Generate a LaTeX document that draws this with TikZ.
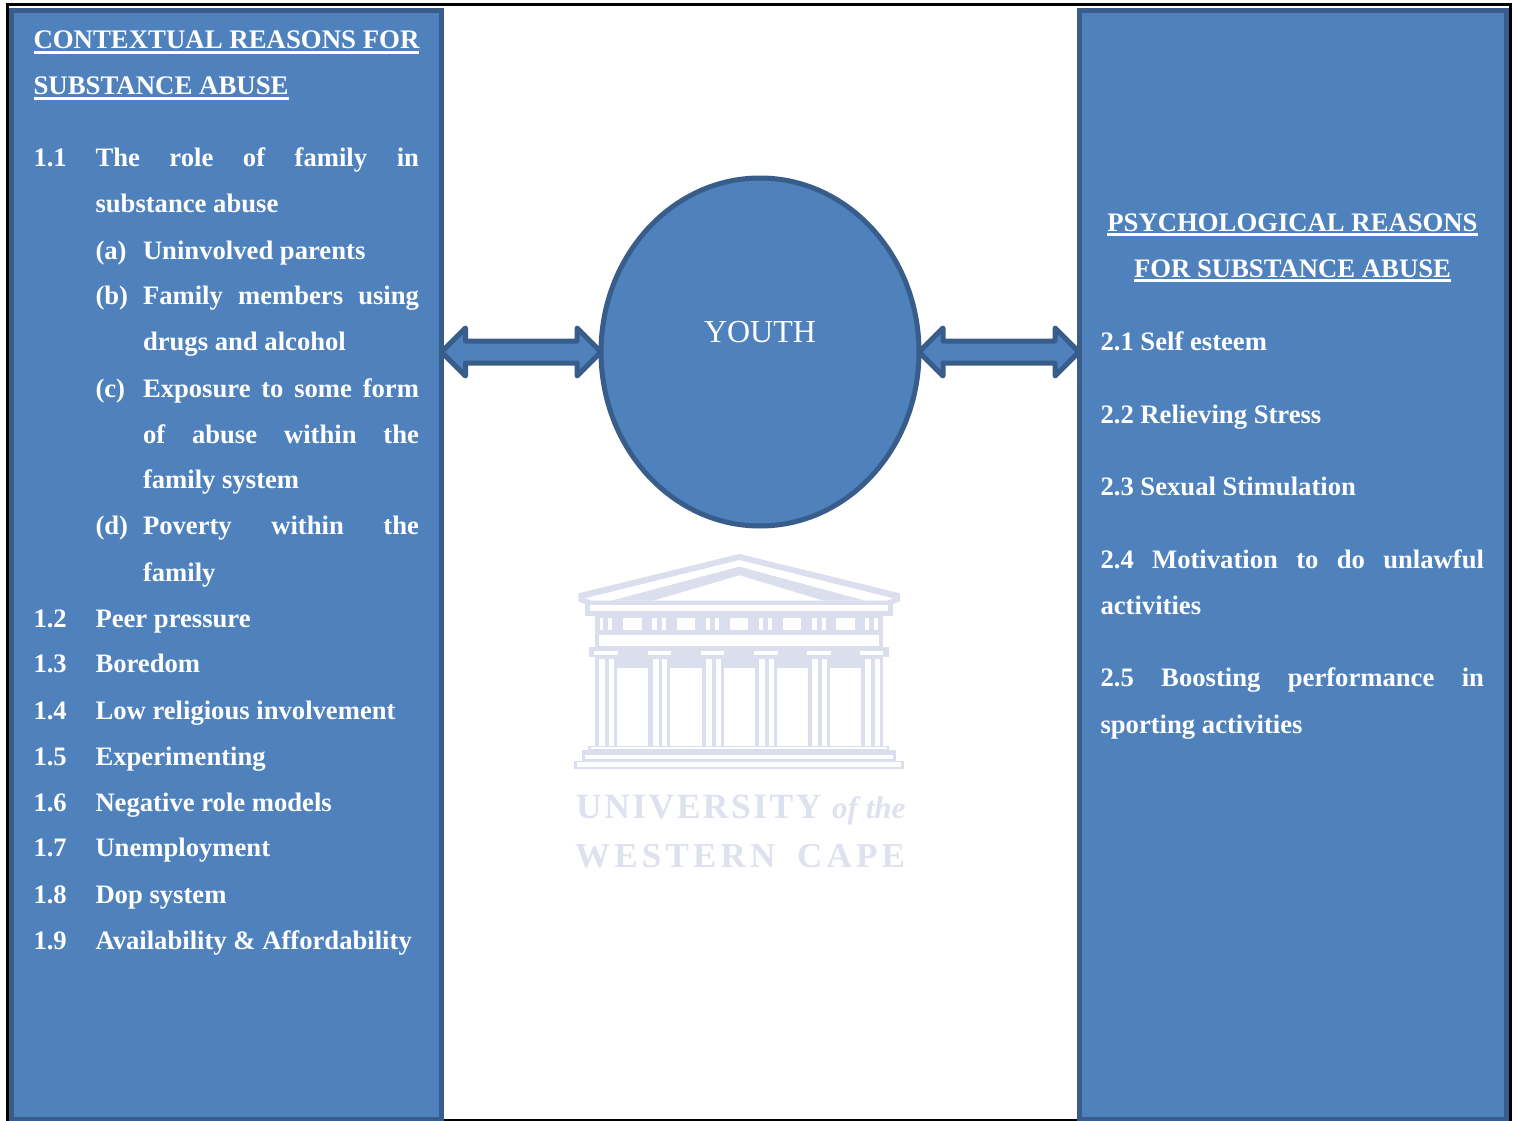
\documentclass[tikz,border=0pt]{standalone}
\usepackage{fontspec}
\setmainfont{Liberation Serif}
\newfontfamily\wmfontA[LetterSpace=7]{Liberation Serif}
\newfontfamily\wmfontB[LetterSpace=12]{Liberation Serif}
\usetikzlibrary{calc,positioning,shapes.geometric}
\definecolor{panelfill}{HTML}{4F81BD}
\definecolor{panelline}{HTML}{385D8A}
\definecolor{wm}{HTML}{DADEED}
\definecolor{wmtext}{HTML}{DEE1EE}
\newcommand{\ultext}[1]{\setbox0\hbox{#1}\rlap{\rule[-4.6pt]{\wd0}{2.4pt}}\box0}
\tikzset{
  panel/.style={draw=panelline,fill=panelfill,line width=5pt,inner sep=0pt,outer sep=0pt,rectangle},
  txt/.style={anchor=base west,inner sep=0pt,outer sep=0pt,text=white,font=\fontsize{26.65}{30}\selectfont\bfseries},
  ttl/.style={anchor=base west,inner sep=0pt,outer sep=0pt,text=white,font=\fontsize{26.82}{30}\selectfont\bfseries},
  ctr/.style={anchor=base,inner sep=0pt,outer sep=0pt,text=white,font=\fontsize{26.7}{30}\selectfont\bfseries},
  blockarrow/.style={draw=panelline,fill=panelfill,line width=5pt,line join=round},
  wmfill/.style={fill=wm,draw=none},
  wmwhite/.style={fill=white,draw=none},
}
\newcommand{\tl}[4]{\node[txt] (#1) at (#2,#3) {#4};}
\newcommand{\jl}[5]{\node[txt] (#1) at (#2,#3) {\makebox[#4pt][s]{#5}};}
\newcommand{\barrow}[2]{%
  \draw[blockarrow] (#1)
    -- ($(#1)+(24,-24)$) -- ($(#1)+(24,-11)$)
    -- ($(#2)+(-24,-11)$) -- ($(#2)+(-24,-24)$)
    -- (#2)
    -- ($(#2)+(-24,24)$) -- ($(#2)+(-24,11)$)
    -- ($(#1)+(24,11)$) -- ($(#1)+(24,24)$) -- cycle;}
\begin{document}
\begin{tikzpicture}[x=1pt,y=-1pt]
\useasboundingbox (0,0) rectangle (1517,1121);
\fill[white] (0,0) rectangle (1517,1121);
\draw[black,line width=2.6pt] (7.2,4.5) rectangle (1510.3,1120);

% watermark
\begin{scope}[shift={(540,530)},x=0.33333pt,y=-0.33333pt]
  \fill[wmfill] (115,190) -- (598,72) -- (1080,190) -- (1080,214) -- (1060,222) -- (135,222) -- (115,214) -- cycle;
  \fill[wmwhite] (135,205) -- (598,90) -- (1060,205) -- (1040,212) -- (155,212) -- cycle;
  \fill[wmfill] (215,212) -- (598,110) -- (975,212) -- cycle;
  \fill[wmwhite] (340,212) -- (598,136) -- (850,212) -- cycle;
  \fill[wmfill] (150,212) rectangle (1045,226);
  \fill[wmwhite] (150,228) rectangle (1045,244);
  \fill[wmfill] (135,222) rectangle (150,258);
  \fill[wmfill] (1045,222) rectangle (1060,258);
  \fill[wmfill] (150,244) rectangle (1045,258);
  \fill[wmfill] (165,258) rectangle (1030,352);
  \foreach \a/\b in {250/305,410/465,570/625,728/783,888/945,180/190,203/215,337/350,365/378,497/510,525/538,657/670,683/697,815/830,845/858,975/988,1003/1015}
    \fill[wmwhite] (\a,263) rectangle (\b,300);
  \fill[wmwhite] (178,315) rectangle (1018,348);
  \fill[wmfill] (148,350) rectangle (1047,380);
  \fill[wmfill] (165,380) rectangle (1030,415);
  \foreach \c in {163,323,483,643,802,960}{
    \fill[wmwhite] (\c,362) rectangle ++(70,13);
    \fill[wmfill] (\c+2,380) rectangle ++(66,268);
    \fill[wmwhite] (\c+15,386) rectangle ++(18,262);
    \fill[wmwhite] (\c+44,386) rectangle ++(15,262);
  }
  \fill[wmfill] (145,648) rectangle (1048,660);
  \fill[wmwhite] (152,652) rectangle (1040,657);
  \fill[wmfill] (125,660) rectangle (1068,692);
  \fill[wmwhite] (134,676) rectangle (1060,686);
  \fill[wmfill] (103,692) rectangle (1092,718);
  \fill[wmwhite] (112,697) rectangle (1084,710);
\end{scope}
\node[anchor=base west,inner sep=0pt,text=wmtext,font=\wmfontA\fontsize{35.5}{40}\selectfont\bfseries] (wmuni) at (576,818) {UNIVERSITY};
\node[anchor=base west,inner sep=0pt,text=wmtext,font=\fontsize{31}{36}\selectfont\bfseries\itshape] (wmof) at (832,818) {of the};
\node[anchor=base west,inner sep=0pt,text=wmtext,font=\wmfontB\fontsize{35}{40}\selectfont\bfseries] (wmwest) at (575,867) {WESTERN};
\node[anchor=base west,inner sep=0pt,text=wmtext,font=\wmfontB\fontsize{35}{40}\selectfont\bfseries] (wmcape) at (797,867) {CAPE};

% panels and circle
\node[panel,minimum width=430pt,minimum height=1108.5pt] (left) at (226.5,565.25) {};
\node[panel,minimum width=427pt,minimum height=1108.5pt] (right) at (1292.5,565.25) {};
\node[draw=panelline,fill=panelfill,line width=5pt,ellipse,minimum width=318pt,minimum height=348pt,inner sep=0pt,outer sep=0pt] (circ) at (760,352) {};
\node[anchor=base,inner sep=0pt,text=white,font=\fontsize{32}{36}\selectfont] (youth) at (760,342) {YOUTH};

% arrows
\coordinate (al) at (circ.west -| left.east);
\coordinate (ar) at (circ.west);
\coordinate (bl) at (circ.east);
\coordinate (br) at (circ.east -| right.west);
\barrow{al}{ar}
\barrow{bl}{br}

% left text
\node[ttl] (t1) at (33.5,49) {\ultext{CONTEXTUAL REASONS FOR}};
\node[ttl] (t2) at (33.5,95) {\ultext{SUBSTANCE ABUSE}};
\tl{n11}{33.5}{166}{1.1}
\jl{l11}{95.5}{166}{323.5}{The role of family in}
\tl{l11b}{95.5}{212}{substance abuse}
\tl{na}{95.5}{259}{(a)}
\tl{la}{143}{259}{Uninvolved parents}
\tl{nb}{95.5}{304}{(b)}
\jl{lb}{143}{304}{276}{Family members using}
\tl{lbb}{143}{350}{drugs and alcohol}
\tl{nc}{95.5}{397}{(c)}
\jl{lc}{143}{397}{276}{Exposure to some form}
\jl{lcb}{143}{443}{276}{of abuse within the}
\tl{lcc}{143}{488}{family system}
\tl{nd}{95.5}{534}{(d)}
\jl{ld}{143}{534}{276}{Poverty within the}
\tl{ldb}{143}{581}{family}
\tl{n12}{33.5}{627}{1.2}\tl{l12}{95.5}{627}{Peer pressure}
\tl{n13}{33.5}{672}{1.3}\tl{l13}{95.5}{672}{Boredom}
\tl{n14}{33.5}{719}{1.4}\tl{l14}{95.5}{719}{Low religious involvement}
\tl{n15}{33.5}{765}{1.5}\tl{l15}{95.5}{765}{Experimenting}
\tl{n16}{33.5}{811}{1.6}\tl{l16}{95.5}{811}{Negative role models}
\tl{n17}{33.5}{856}{1.7}\tl{l17}{95.5}{856}{Unemployment}
\tl{n18}{33.5}{903}{1.8}\tl{l18}{95.5}{903}{Dop system}
\tl{n19}{33.5}{949}{1.9}\tl{l19}{95.5}{949}{Availability \& Affordability}

% right text
\node[ctr] (r1) at (1292.5,231) {\ultext{PSYCHOLOGICAL REASONS}};
\node[ctr] (r2) at (1292.5,277) {\ultext{FOR SUBSTANCE ABUSE}};
\tl{r21}{1100.5}{350}{2.1 Self esteem}
\tl{r22}{1100.5}{423}{2.2 Relieving Stress}
\tl{r23}{1100.5}{495}{2.3 Sexual Stimulation}
\jl{r24}{1100.5}{568}{383.5}{2.4 Motivation to do unlawful}
\tl{r24b}{1100.5}{614}{activities}
\jl{r25}{1100.5}{686}{383.5}{2.5 Boosting performance in}
\tl{r25b}{1100.5}{733}{sporting activities}
\end{tikzpicture}
\end{document}
